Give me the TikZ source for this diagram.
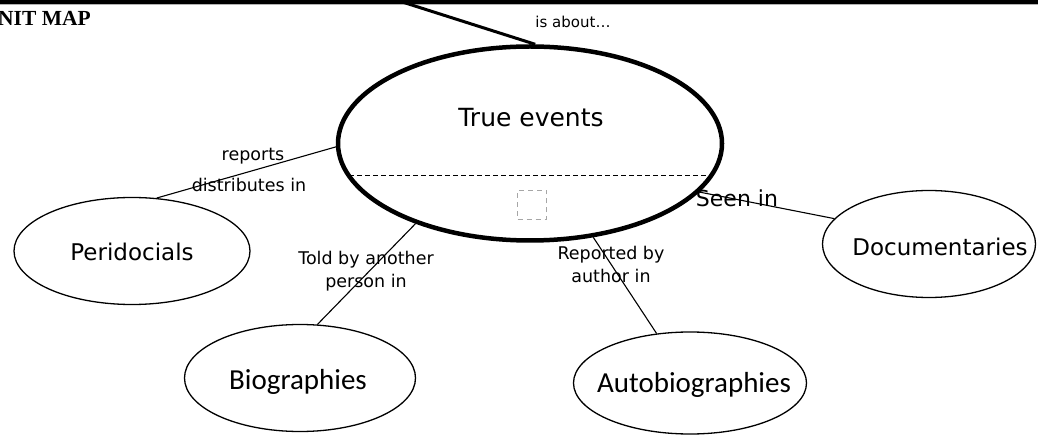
\documentclass[tikz,border=0pt]{standalone}
\usepackage{fontspec}
\setmainfont{DejaVu Sans}
\newfontfamily\hdrfont{Liberation Serif}
\newfontfamily\condfont{Carlito}
\usetikzlibrary{shapes.geometric}
\begin{document}
\begin{tikzpicture}[x=1pt,y=-1pt,
  concept/.style={draw, ellipse, line width=1.3pt, inner sep=0pt},
  mainconcept/.style={draw, ellipse, line width=4.5pt, inner sep=0pt},
  ctext/.style={inner sep=0pt, font=\fontsize{23}{26}\selectfont},
  cctext/.style={inner sep=0pt, font=\condfont\fontsize{29}{32}\selectfont},
  link/.style={line width=1.1pt},
  lbl/.style={inner sep=0pt, font=\fontsize{17.5}{23}\selectfont, align=center},
]
\useasboundingbox (0,0) rectangle (1038,435);
% top rule
\fill[black] (0,0) rectangle (1038,3.6);
\draw[gray!60, line width=0.8pt] (0,4.6) -- (1038,4.6);
\node[inner sep=0pt, anchor=west, font=\hdrfont\bfseries\fontsize{21.5}{24}\selectfont] (title) at (-2,18) {NIT MAP};

% concepts
\node[mainconcept, minimum width=384pt, minimum height=194pt] (te) at (530,143.5) {};
\node[ctext, font=\fontsize{25}{28}\selectfont] (tetext) at (531,118) {True events};
\node[concept, minimum width=236pt, minimum height=107pt] (per) at (132,251) {};
\node[ctext] (pertext) at (132,252) {Peridocials};
\node[concept, minimum width=231pt, minimum height=107pt] (bio) at (300,378) {};
\node[cctext] (biotext) at (298,382) {Biographies};
\node[concept, minimum width=233pt, minimum height=102pt] (auto) at (690,383) {};
\node[cctext] (autotext) at (694,385) {Autobiographies};
\node[concept, minimum width=213pt, minimum height=107pt] (doc) at (929,244) {};
\node[ctext] (doctext) at (940,247) {Documentaries};

% dashed divider and placeholder box
\coordinate (dl) at (349,176);
\coordinate (dr) at (712,176);
\draw[dashed, line width=1pt, dash pattern=on 5pt off 3pt] (dl) -- (dr);
\node[draw=gray!70, dashed, dash pattern=on 5pt off 4pt, line width=1pt, minimum width=29pt, minimum height=29pt, inner sep=0pt] (ph) at (532,205) {};

% connectors
\coordinate (topend) at (396,0);
\draw[line width=3pt] (topend) -- (te.87);
\node[inner sep=0pt, font=\fontsize{15}{18}\selectfont] (labout) at (573,22) {is about\dots};

\draw[link] (per.65) -- (te.181.5);
\node[lbl] (lrep) at (253,156) {reports};
\node[lbl] (ldist) at (249,185) {distributes in};

\draw[link] (bio.72) -- (te.215.5);
\node[lbl] (ltold) at (366,271) {Told by another\\person in};

\draw[link] (auto.124) -- (te.304);
\node[lbl] (lrepa) at (611,264) {Reported by\\author in};

\draw[link] (te.344) -- (doc.165);
\node[inner sep=0pt, font=\fontsize{22}{25}\selectfont] (lseen) at (737,198) {Seen in};
\end{tikzpicture}
\end{document}
